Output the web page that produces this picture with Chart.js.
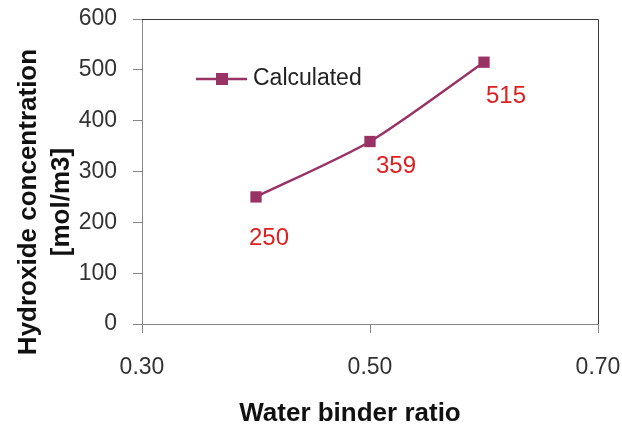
<!DOCTYPE html>
<html>
<head>
<meta charset="utf-8">
<script src="https://cdn.jsdelivr.net/npm/chart.js@4.4.1/dist/chart.umd.min.js"></script>
<style>
  html, body { margin: 0; padding: 0; background: #fff; }
  #wrap { width: 622px; height: 426px; }
</style>
</head>
<body>
<div id="wrap"><canvas id="chart" width="622" height="426"></canvas></div>
<script>
// Hydroxide concentration vs water binder ratio

const waterBinder = [0.40, 0.50, 0.60];
const hydroxide = [250, 359, 515];
const seriesName = 'Calculated';
const yTicks = [0, 100, 200, 300, 400, 500, 600];
const xTicks = [0.30, 0.50, 0.70];
const xTitle = 'Water binder ratio';
const yTitle = ['Hydroxide concentration', '[mol/m3]'];

const lineColor = '#993366';
const labelColor = '#dd2020';
const axisGray = '#868686';
const fontFamily = '"Liberation Sans", Arial, sans-serif';

// value labels under each point (offsets in px from the point)
const labelOffsets = [[-7, 41], [6, 25], [2, 34]];

const valueLabels = {
    id: 'valueLabels',
    afterDatasetsDraw(chart) {
        const ctx = chart.ctx;
        const meta = chart.getDatasetMeta(0);
        ctx.save();
        ctx.font = '24px ' + fontFamily;
        ctx.fillStyle = labelColor;
        ctx.textAlign = 'left';
        ctx.textBaseline = 'middle';
        meta.data.forEach(function(pt, i) {
            const off = labelOffsets[i];
            ctx.fillText(String(hydroxide[i]), pt.x + off[0], pt.y + off[1]);
        });
        ctx.restore();
    }
};

// top / right frame of the plot area
const plotFrame = {
    id: 'plotFrame',
    beforeDatasetsDraw(chart) {
        const a = chart.chartArea;
        const ctx = chart.ctx;
        ctx.save();
        ctx.strokeStyle = '#3a3a3a';
        ctx.lineWidth = 1;
        ctx.beginPath();
        ctx.moveTo(a.left, a.top + 0.5);
        ctx.lineTo(a.right + 0.5, a.top + 0.5);
        ctx.lineTo(a.right + 0.5, a.bottom);
        ctx.stroke();
        ctx.restore();
    }
};

// axis titles, placed like the Excel original (not centred on the plot)
const axisTitles = {
    id: 'axisTitles',
    afterDraw(chart) {
        const ctx = chart.ctx;
        ctx.save();
        ctx.font = 'bold 26px ' + fontFamily;
        ctx.fillStyle = '#111';
        ctx.textAlign = 'center';
        ctx.textBaseline = 'middle';
        ctx.fillText(xTitle, 350, 414);
        ctx.translate(29, 202);
        ctx.rotate(-Math.PI / 2);
        ctx.fillText(yTitle[0], 0, 0);
        ctx.fillText(yTitle[1], 0, 33);
        ctx.restore();
    }
};

// legend sitting inside the plot area
const insideLegend = {
    id: 'insideLegend',
    afterDraw(chart) {
        const ctx = chart.ctx;
        const ds = chart.data.datasets[0];
        const y = 79;
        ctx.save();
        ctx.strokeStyle = ds.borderColor;
        ctx.lineWidth = ds.borderWidth;
        ctx.beginPath();
        ctx.moveTo(196, y);
        ctx.lineTo(247, y);
        ctx.stroke();
        ctx.fillStyle = ds.pointBackgroundColor;
        ctx.fillRect(216, y - 6, 12, 12);
        ctx.font = '23px ' + fontFamily;
        ctx.fillStyle = '#222';
        ctx.textAlign = 'left';
        ctx.textBaseline = 'middle';
        ctx.fillText(ds.label, 253, y);
        ctx.restore();
    }
};

new Chart(document.getElementById('chart').getContext('2d'), {
    type: 'line',
    data: {
        datasets: [{
            label: seriesName,
            data: waterBinder.map((x, i) => ({ x: x, y: hydroxide[i] })),
            borderColor: lineColor,
            backgroundColor: lineColor,
            pointBackgroundColor: lineColor,
            pointBorderColor: lineColor,
            borderWidth: 2.5,
            pointStyle: 'rect',
            pointRadius: 8,
            pointBorderWidth: 0,
            tension: 0.25,
            fill: false
        }]
    },
    options: {
        responsive: false,
        animation: false,
        layout: {
            padding: { top: 19, right: 24, bottom: 0, left: 0 }
        },
        plugins: {
            legend: { display: false },
            tooltip: { enabled: false }
        },
        scales: {
            x: {
                type: 'linear',
                min: xTicks[0],
                max: xTicks[xTicks.length - 1],
                afterBuildTicks: function(scale) {
                    scale.ticks = xTicks.map(v => ({ value: v }));
                },
                afterFit: function(scale) {
                    scale.height = 102;
                    scale.paddingLeft = 0;
                    scale.paddingRight = 0;
                },
                ticks: {
                    color: '#333',
                    font: { family: fontFamily, size: 23 },
                    padding: 21,
                    maxRotation: 0,
                    callback: v => Number(v).toFixed(2)
                },
                grid: {
                    drawOnChartArea: false,
                    drawTicks: true,
                    tickLength: 9,
                    color: axisGray
                },
                border: { color: axisGray }
            },
            y: {
                min: yTicks[0],
                max: yTicks[yTicks.length - 1],
                afterBuildTicks: function(scale) {
                    scale.ticks = yTicks.map(v => ({ value: v }));
                },
                afterFit: function(scale) {
                    scale.width = 142;
                    scale.paddingTop = 0;
                    scale.paddingBottom = 0;
                },
                ticks: {
                    color: '#333',
                    font: { family: fontFamily, size: 23 },
                    padding: 16
                },
                grid: {
                    drawOnChartArea: false,
                    drawTicks: true,
                    tickLength: 9,
                    color: axisGray
                },
                border: { color: axisGray }
            }
        }
    },
    plugins: [plotFrame, valueLabels, axisTitles, insideLegend]
});
</script>
</body>
</html>
